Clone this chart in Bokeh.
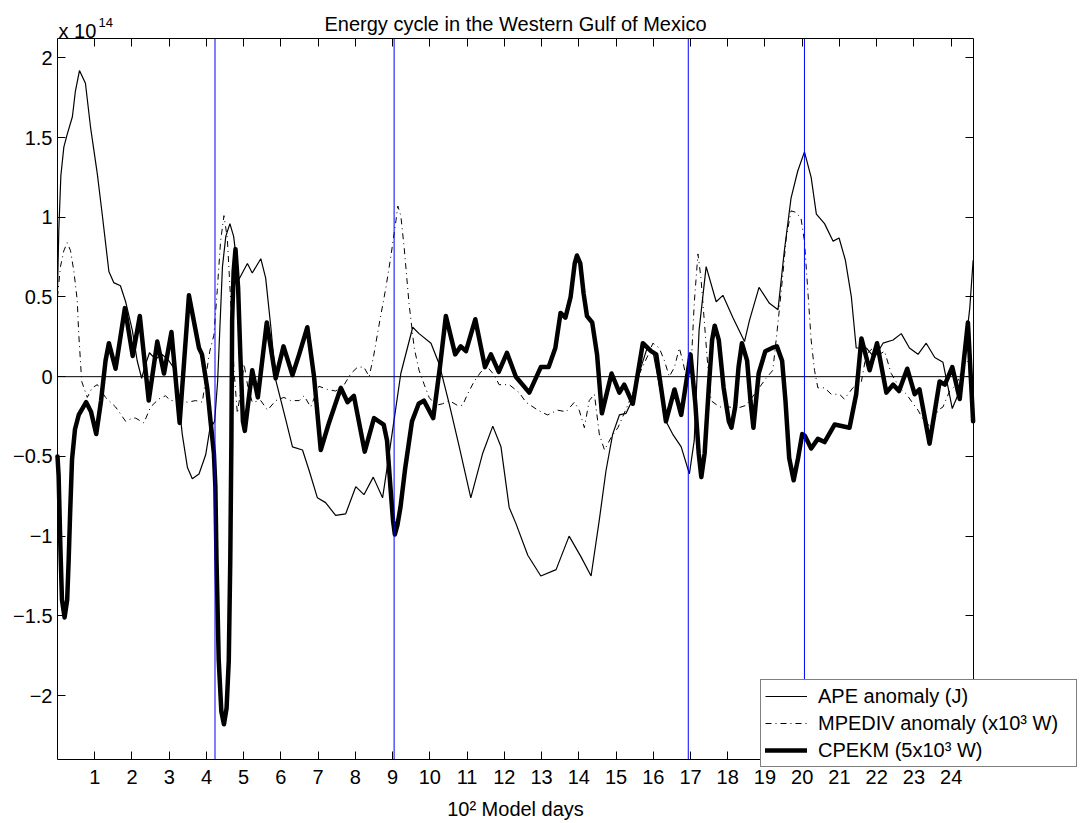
from bokeh.plotting import figure
from bokeh.models import (Label, Legend, LegendItem, LinearAxis, FixedTicker,
                          CustomJSTickFormatter, Range1d)
from bokeh.embed import file_html
from bokeh.resources import INLINE

FONT = "Liberation Sans"

title_text = "Energy cycle in the Western Gulf of Mexico"
x_label = "10² Model days"
y_scale_text = "x 10"
y_scale_exp = "14"
x_ticks = list(range(1, 25))
y_ticks = [-2, -1.5, -1, -0.5, 0, 0.5, 1, 1.5, 2]
x_limits = [0, 24.6]
y_limits = [-2.401, 2.121]
event_days = [4.23, 9.04, 16.94, 20.06]

series_labels = ["APE anomaly (J)", "MPEDIV anomaly (x10³ W)", "CPEKM (5x10³ W)"]

# APE anomaly (units of 1e14 J)
ape_day = [0.00, 0.035, 0.09, 0.17, 0.26, 0.40, 0.48, 0.59, 0.75, 0.89, 1.07, 1.20, 1.38, 1.51,
           1.69, 1.83, 2.01, 2.14, 2.26, 2.37, 2.47, 2.63, 2.81, 2.99, 3.17, 3.35, 3.49, 3.62,
           3.80, 3.98, 4.09, 4.22, 4.30, 4.43, 4.52, 4.63, 4.73, 4.87, 5.10, 5.23, 5.46, 5.59,
           5.73, 5.86, 6.13, 6.31, 6.58, 6.76, 6.98, 7.20, 7.47, 7.74, 8.01, 8.23, 8.48, 8.73,
           8.91, 9.22, 9.54, 9.71, 10.03, 10.25, 10.52, 10.79, 11.10, 11.42, 11.69, 11.91, 12.13,
           12.31, 12.63, 12.98, 13.39, 13.74, 14.06, 14.33, 14.55, 14.73, 14.91, 15.09, 15.27,
           15.45, 15.67, 15.85, 15.99, 16.16, 16.34, 16.52, 16.75, 16.97, 17.10, 17.23, 17.42,
           17.69, 17.87, 18.14, 18.45, 18.58, 18.84, 19.12, 19.35, 19.52, 19.70, 19.88, 20.06,
           20.24, 20.38, 20.60, 20.83, 20.99, 21.16, 21.32, 21.45, 21.72, 21.94, 22.17, 22.44,
           22.66, 22.88, 23.11, 23.33, 23.56, 23.78, 23.92, 24.03, 24.19, 24.36, 24.50, 24.59]
ape_val = [0.54, 0.92, 1.26, 1.44, 1.52, 1.63, 1.79, 1.92, 1.84, 1.56, 1.27, 1.02, 0.66, 0.59,
           0.57, 0.47, 0.29, 0.10, -0.01, 0.08, 0.15, 0.11, 0.14, 0.10, 0.04, -0.36, -0.57, -0.64,
           -0.61, -0.49, -0.33, -0.28, -0.03, 0.69, 0.88, 0.96, 0.88, 0.61, 0.71, 0.65, 0.74, 0.62,
           0.31, -0.02, -0.27, -0.44, -0.46, -0.59, -0.76, -0.79, -0.87, -0.86, -0.69, -0.74, -0.63, -0.76,
           -0.48, 0.02, 0.31, 0.27, 0.21, 0.08, -0.17, -0.44, -0.76, -0.48, -0.31, -0.44, -0.82,
           -0.92, -1.12, -1.25, -1.21, -1.00, -1.13, -1.25, -0.90, -0.59, -0.36, -0.24, -0.23,
           -0.14, 0.06, 0.19, 0.16, -0.05, -0.28, -0.36, -0.44, -0.61, -0.40, 0.29, 0.69,
           0.47, 0.51, 0.37, 0.22, 0.35, 0.56, 0.46, 0.42, 0.79, 1.12, 1.29, 1.41,
           1.25, 1.02, 0.96, 0.85, 0.87, 0.73, 0.50, 0.18, 0.18, 0.12, 0.21, 0.23,
           0.27, 0.18, 0.14, 0.21, 0.12, 0.09, -0.07, -0.20, -0.11, 0.14, 0.43, 0.73]

# MPEDIV anomaly (units of 1e14, x10^3 W)
mpediv_day = [0.00, 0.08, 0.17, 0.26, 0.35, 0.44, 0.53, 0.57, 0.65, 0.80, 0.93, 1.07, 1.29, 1.56,
              1.83, 2.01, 2.10, 2.32, 2.50, 2.72, 2.90, 3.04, 3.26, 3.49, 3.71, 3.89, 4.01, 4.09,
              4.20, 4.29, 4.38, 4.47, 4.56, 4.65, 4.74, 4.83, 4.92, 5.01, 5.11, 5.23, 5.46, 5.64,
              5.86, 6.08, 6.26, 6.49, 6.62, 6.80, 7.02, 7.25, 7.47, 7.70, 7.88, 8.06, 8.23, 8.37,
              8.49, 8.64, 8.82, 8.95, 9.09, 9.14, 9.22, 9.31, 9.44, 9.58, 9.71, 9.85, 9.98, 10.16,
              10.34, 10.52, 10.74, 10.88, 11.01, 11.19, 11.37, 11.55, 11.73, 11.86, 12.13, 12.40,
              12.58, 12.90, 13.16, 13.43, 13.66, 13.88, 14.01, 14.15, 14.28, 14.42, 14.55, 14.69,
              14.87, 15.05, 15.22, 15.40, 15.63, 15.85, 15.99, 16.16, 16.30, 16.43, 16.57, 16.70,
              16.79, 16.88, 17.02, 17.10, 17.20, 17.28, 17.37, 17.46, 17.55, 17.78, 18.04, 18.23,
              18.49, 18.72, 19.03, 19.21, 19.30, 19.39, 19.48, 19.57, 19.70, 19.84, 19.97, 20.06,
              20.15, 20.24, 20.33, 20.42, 20.60, 20.78, 21.00, 21.13, 21.36, 21.59, 21.72, 21.90,
              22.08, 22.21, 22.39, 22.62, 22.80, 22.98, 23.11, 23.25, 23.47, 23.65, 23.78, 23.96,
              24.14, 24.32, 24.45, 24.59]
mpediv_val = [0.50, 0.69, 0.79, 0.84, 0.79, 0.66, 0.48, 0.27, -0.03, -0.13, -0.07, -0.05, -0.13, -0.19,
              -0.28, -0.26, -0.26, -0.29, -0.19, -0.14, -0.12, -0.15, -0.15, -0.16, -0.15, -0.16, 0.04, 0.16,
              0.26, 0.54, 0.85, 1.01, 0.87, 0.48, 0.04, -0.23, -0.09, 0.08, -0.06, -0.16, -0.15, -0.21,
              -0.15, -0.13, -0.15, -0.15, -0.12, -0.19, -0.06, -0.08, -0.09, -0.05, 0.02, 0.06, 0.06, 0.00,
              0.13, 0.33, 0.56, 0.75, 0.98, 1.07, 1.01, 0.81, 0.46, 0.18, 0.04, -0.05, -0.13, -0.18,
              -0.17, -0.15, -0.18, -0.18, -0.11, -0.03, 0.03, 0.06, 0.01, -0.05, -0.05, -0.10,
              -0.16, -0.21, -0.24, -0.21, -0.22, -0.16, -0.21, -0.32, -0.15, -0.11, -0.36, -0.46,
              -0.38, -0.32, -0.23, -0.13, 0.02, 0.13, 0.21, 0.18, 0.10, 0.00, 0.06, 0.18,
              0.10, 0.00, 0.08, 0.46, 0.77, 0.62, 0.35, 0.08, -0.15, -0.19, -0.19, -0.20,
              -0.18, -0.11, -0.01, 0.04, 0.23, 0.43, 0.64, 0.87, 1.04, 1.03, 0.99, 0.85,
              0.54, 0.23, 0.04, -0.07, -0.07, -0.11, -0.11, -0.14, -0.07, -0.03, 0.14, 0.18,
              0.14, 0.16, 0.02, -0.07, -0.11, -0.17, -0.21, -0.27, -0.32, -0.21, -0.19, -0.09,
              -0.05, 0.06, 0.10, 0.02]

# CPEKM (units of 1e14, 5x10^3 W)
cpekm_day = [0.00, 0.03, 0.08, 0.12, 0.19, 0.26, 0.30, 0.34, 0.39, 0.47, 0.57, 0.77, 0.90, 1.04,
             1.17, 1.29, 1.38, 1.56, 1.81, 2.02, 2.21, 2.45, 2.68, 2.86, 3.06, 3.28, 3.53, 3.80, 3.88,
             4.02, 4.11, 4.20, 4.24, 4.27, 4.33, 4.40, 4.47, 4.54, 4.60, 4.64, 4.67, 4.69, 4.73,
             4.78, 4.85, 4.91, 4.98, 5.03,
             5.23, 5.38, 5.62, 5.86, 6.07, 6.31, 6.49, 6.71, 6.89, 7.07, 7.29, 7.61, 7.79, 7.96,
             8.25, 8.50,
             8.76, 8.85, 8.94, 9.01, 9.06, 9.13, 9.21, 9.34, 9.52, 9.70, 9.84, 10.09, 10.27, 10.43,
             10.68, 10.83, 10.97, 11.22, 11.48, 11.64, 11.85, 12.07, 12.31, 12.67, 12.98,
             13.19, 13.37, 13.51, 13.64, 13.78, 13.89, 13.95, 14.04, 14.13, 14.22, 14.36, 14.49,
             14.62, 14.88, 15.09, 15.22, 15.45, 15.72, 15.94, 16.08, 16.34, 16.57, 16.75,
             17.00, 17.13, 17.22, 17.29, 17.38, 17.49, 17.58, 17.65, 17.76, 17.89, 18.03, 18.10,
             18.20, 18.29, 18.38, 18.52, 18.61, 18.69, 18.83, 19.01, 19.19, 19.32, 19.46, 19.55,
             19.65, 19.77, 19.89, 20.00, 20.07,
             20.24, 20.42, 20.60, 20.87, 21.27, 21.45, 21.59, 21.81, 22.01, 22.26, 22.44, 22.60,
             22.82, 23.02, 23.15, 23.42, 23.69, 23.83, 24.03, 24.23, 24.45, 24.59]
cpekm_val = [-0.50, -0.62, -1.09, -1.40, -1.51, -1.40, -1.15, -0.85, -0.52, -0.33, -0.24, -0.16, -0.22, -0.36,
             -0.15, 0.10, 0.21, 0.05, 0.43, 0.13, 0.38, -0.15, 0.22, 0.02, 0.28, -0.29, 0.51, 0.18, 0.14,
             -0.07, -0.28, -0.48, -0.69, -1.15, -1.78, -2.10, -2.18, -2.08, -1.78, -1.15, -0.40, 0.35, 0.66,
             0.80, 0.56, 0.14, -0.28, -0.34,
             0.04, -0.13, 0.34, -0.01, 0.19, 0.01, 0.14, 0.31, 0.00, -0.46, -0.29, -0.07, -0.16, -0.12,
             -0.47, -0.26,
             -0.30, -0.40, -0.69, -0.90, -0.99, -0.93, -0.82, -0.57, -0.28, -0.17, -0.15, -0.26, 0.06, 0.38,
             0.14, 0.19, 0.16, 0.36, 0.06, 0.14, 0.03, 0.15, 0.00, -0.10, 0.06,
             0.06, 0.18, 0.40, 0.37, 0.50, 0.71, 0.76, 0.71, 0.52, 0.38, 0.34, 0.14,
             -0.23, 0.02, -0.10, -0.05, -0.17, 0.21, 0.16, 0.14, -0.28, -0.08, -0.24,
             0.14, -0.17, -0.48, -0.63, -0.48, -0.07, 0.23, 0.32, 0.23, -0.07, -0.28, -0.32,
             -0.19, 0.06, 0.21, 0.10, -0.15, -0.32, 0.02, 0.16, 0.18, 0.19, 0.10, -0.15,
             -0.51, -0.65, -0.51, -0.36, -0.37,
             -0.45, -0.39, -0.41, -0.30, -0.32, -0.11, 0.24, 0.04, 0.21, -0.10, -0.05, -0.09,
             0.05, -0.11, -0.08, -0.42, -0.03, -0.05, 0.06, -0.14, 0.34, -0.28]

# ---- layout (pixels): whole canvas is the plotting frame, the axes box sits inside it
W, H = 1083, 821
BOX_L, BOX_R, BOX_T, BOX_B = 57, 973, 38, 759
sx = (BOX_R - BOX_L) / (x_limits[1] - x_limits[0])
sy = (BOX_B - BOX_T) / (y_limits[1] - y_limits[0])
x_view = (x_limits[0] - BOX_L / sx, x_limits[1] + (W - BOX_R) / sx)
y_view = (y_limits[0] - (H - BOX_B) / sy, y_limits[1] + BOX_T / sy)

p = figure(width=W, height=H, min_border=0,
           x_range=Range1d(*x_view), y_range=Range1d(*y_view),
           output_backend="svg", toolbar_location=None, tools="")
p.xgrid.visible = False
p.ygrid.visible = False
p.outline_line_color = None
p.background_fill_color = "white"
p.border_fill_color = "white"

LABEL_JS = "return tick < 0 ? '\\u2212' + Math.abs(tick) : tick.toString();"


def style_axis(ax, ticks, loc, bounds, labels=True):
    ax.fixed_location = loc
    ax.bounds = bounds
    ax.ticker = FixedTicker(ticks=ticks, minor_ticks=[])
    ax.major_tick_in = 8
    ax.major_tick_out = 0
    ax.minor_tick_in = 0
    ax.minor_tick_out = 0
    ax.major_tick_line_color = "black"
    ax.major_tick_line_width = 1
    ax.axis_line_color = "black"
    ax.axis_line_width = 1
    ax.major_label_text_font = FONT
    ax.major_label_text_font_size = "20px"
    ax.major_label_text_color = "black"
    if labels:
        ax.formatter = CustomJSTickFormatter(code=LABEL_JS)
    else:
        ax.formatter = CustomJSTickFormatter(code="return '';")
        ax.major_label_standoff = 0


style_axis(p.xaxis[0], x_ticks, y_limits[0], tuple(x_limits))
p.xaxis[0].major_label_standoff = 10
style_axis(p.yaxis[0], y_ticks, x_limits[0], tuple(y_limits))
p.yaxis[0].major_label_standoff = 5

top_ax = LinearAxis()
style_axis(top_ax, x_ticks, y_limits[1], tuple(x_limits), labels=False)
p.add_layout(top_ax, "above")
right_ax = LinearAxis()
style_axis(right_ax, y_ticks, x_limits[1], tuple(y_limits), labels=False)
p.add_layout(right_ax, "right")

r_ape = p.line(ape_day, ape_val, line_color="black", line_width=1.2)
r_mp = p.line(mpediv_day, mpediv_val, line_color="black", line_width=1, line_dash="6 4 1 4")
r_ck = p.line(cpekm_day, cpekm_val, line_color="black", line_width=4.5,
              line_join="round", line_cap="round")

# zero line and event markers, bounded by the axes box
p.line(x_limits, [0, 0], line_color="black", line_width=1)
p.segment(x0=event_days, y0=[y_limits[0]] * len(event_days),
          x1=event_days, y1=[y_limits[1]] * len(event_days),
          line_color="blue", line_width=1)

legend = Legend(items=[LegendItem(label=series_labels[0], renderers=[r_ape]),
                       LegendItem(label=series_labels[1], renderers=[r_mp]),
                       LegendItem(label=series_labels[2], renderers=[r_ck])],
                location=(760, H - 767), margin=0, padding=4, spacing=3,
                label_height=24, glyph_height=24, glyph_width=42, label_standoff=11,
                label_width=254, label_text_font=FONT, label_text_font_size="20px",
                label_text_color="black", border_line_color="black", border_line_width=1,
                background_fill_color="white", background_fill_alpha=1)
p.add_layout(legend)


def screen_text(x, y_from_top, text, size="20px", align="left"):
    p.add_layout(Label(x=x, y=H - y_from_top, x_units="screen", y_units="screen", text=text,
                       text_align=align, text_baseline="alphabetic", text_font=FONT,
                       text_font_size=size, text_color="black"))


screen_text(515, 23.5, title_text, align="center")
screen_text(58, 30, y_scale_text)
screen_text(98, 22, y_scale_exp, size="13px")
screen_text(515, 808, x_label, align="center")

open("out.html", "w").write(file_html(p, INLINE))
